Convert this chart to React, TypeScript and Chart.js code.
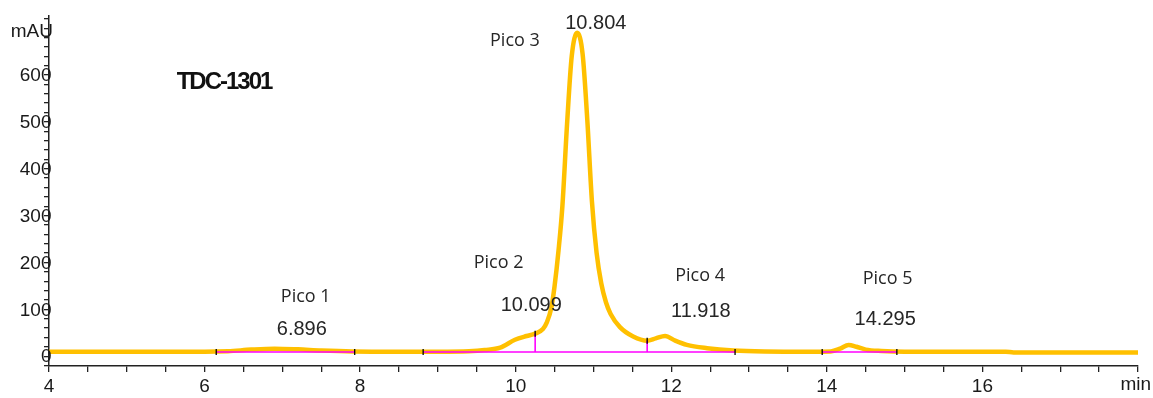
import React, { useEffect, useRef } from "react";
import { Chart, registerables } from "chart.js";

Chart.register(...registerables);

// ---- trace data (retention time in min, absorbance in mAU) ----
const timeMin = [
  4.0, 6.0, 6.3, 6.6, 6.9, 7.2, 7.5, 7.9, 8.5, 9.0, 9.4, 9.6, 9.8, 9.99, 10.14,
  10.25, 10.35, 10.4, 10.46, 10.5, 10.55, 10.6, 10.66, 10.72, 10.79, 10.86,
  10.92, 10.98, 11.04, 11.1, 11.16, 11.22, 11.34, 11.51, 11.69, 11.8, 11.92,
  12.05, 12.2, 12.46, 12.8, 13.2, 13.8, 14.05, 14.17, 14.28, 14.38, 14.5, 14.7,
  15.0, 16.3, 16.4, 18.0,
];
const signalMAU = [
  9.5, 9.5, 10.5, 14, 16, 14.5, 12, 10, 9.5, 9.5, 10.5, 13, 18, 35, 43,
  48, 58, 72, 105, 150, 225, 320, 495, 640, 690, 645,
  505, 330, 220, 155, 115, 90, 62, 42, 33, 38, 43,
  33, 24, 17, 12, 10, 9.5, 10, 16, 24, 20, 14, 11,
  9.5, 9.5, 8, 8,
];

// ---- integration baselines ----
const baseStart = [6.15, 8.81, 13.94];
const baseEnd = [7.93, 12.82, 14.9];
const baseLevel = 9;
const dropTimes = [10.25, 11.69];
const dropTop = [48, 33];

// ---- peak annotations ----
const peakNames = ["Pico 1", "Pico 2", "Pico 3", "Pico 4", "Pico 5"];
const peakTimes = ["6.896", "10.099", "10.804", "11.918", "14.295"];
const nameAtX = [7.3, 9.78, 9.99, 12.37, 14.78];
const nameAtY = [126, 199, 672, 171, 164];
const timeAtX = [7.25, 10.2, 11.03, 12.38, 14.75];
const timeAtY = [56, 109, 711, 96, 79];
const sampleTitle = "TDC-1301";
const titleAtX = 6.25;
const titleAtY = 585;

// ---- axes ----
const xTickValues = [
  4, 4.5, 5, 5.5, 6, 6.5, 7, 7.5, 8, 8.5, 9, 9.5, 10, 10.5, 11, 11.5, 12, 12.5,
  13, 13.5, 14, 14.5, 15, 15.5, 16, 16.5, 17, 17.5, 18,
];
const xLabelValues = [4, 6, 8, 10, 12, 14, 16];
const xLabelTexts = ["4", "6", "8", "10", "12", "14", "16"];
const xUnit = "min";
const yTickValues = [
  -20, 0, 20, 40, 60, 80, 100, 120, 140, 160, 180, 200, 220, 240, 260, 280,
  300, 320, 340, 360, 380, 400, 420, 440, 460, 480, 500, 520, 540, 560, 580,
  600, 620, 640, 660, 680, 700, 720,
];
const yLabelValues = [0, 100, 200, 300, 400, 500, 600];
const yLabelTexts = ["0", "100", "200", "300", "400", "500", "600"];
const yUnit = "mAU";
const yUnitAt = 695;

const AXIS_FONT = "'Liberation Sans', Arial, sans-serif";

const peakLabelPlugin = {
  id: "peakLabels",
  afterDatasetsDraw(chart: any) {
    const { ctx, scales } = chart;
    const x = scales.x;
    const y = scales.y;
    ctx.save();

    // y axis labels (overlapping the axis line like the original)
    ctx.fillStyle = "#1a1a1a";
    ctx.font = `19px ${AXIS_FONT}`;
    ctx.textAlign = "right";
    ctx.textBaseline = "middle";
    for (let i = 0; i < yLabelValues.length; i++) {
      ctx.fillText(yLabelTexts[i], y.right + 2.5, y.getPixelForValue(yLabelValues[i]) + 1);
    }
    ctx.fillText(yUnit, y.right + 4, y.getPixelForValue(yUnitAt) + 1);

    // x unit at the end of the axis
    ctx.textBaseline = "top";
    ctx.fillText(xUnit, chart.width - 2, x.top + 9);

    // peak labels
    ctx.textAlign = "center";
    ctx.textBaseline = "middle";
    ctx.fillStyle = "#262626";
    for (let i = 0; i < peakNames.length; i++) {
      ctx.font = "18px 'Open Sans', sans-serif";
      ctx.fillText(peakNames[i], x.getPixelForValue(nameAtX[i]), y.getPixelForValue(nameAtY[i]));
      ctx.font = `20px ${AXIS_FONT}`;
      ctx.fillText(peakTimes[i], x.getPixelForValue(timeAtX[i]), y.getPixelForValue(timeAtY[i]));
    }

    // sample title
    ctx.fillStyle = "#111";
    ctx.font = `bold 24px ${AXIS_FONT}`;
    (ctx as any).letterSpacing = "-2px";
    ctx.fillText(sampleTitle, x.getPixelForValue(titleAtX), y.getPixelForValue(titleAtY));
    ctx.restore();
  },
};

export default function App() {
  const canvasRef = useRef<HTMLCanvasElement | null>(null);

  useEffect(() => {
    const canvas = canvasRef.current;
    if (!canvas) return;

    const baselineSets = baseStart.map((s, i) => ({
      data: [
        { x: s, y: baseLevel },
        { x: baseEnd[i], y: baseLevel },
      ],
      borderColor: "#FF00FF",
      borderWidth: 1.6,
      pointStyle: "line",
      rotation: 90,
      pointRadius: 3,
      pointBorderColor: "#000",
      pointBorderWidth: 1.3,
      order: 1,
    }));
    const dropSets = dropTimes.map((t, i) => ({
      data: [
        { x: t, y: baseLevel },
        { x: t, y: dropTop[i] },
      ],
      borderColor: "#FF00FF",
      borderWidth: 1.6,
      pointStyle: "line",
      rotation: 90,
      pointRadius: [0, 3],
      pointBorderColor: "#000",
      pointBorderWidth: 1.3,
      order: 1,
    }));

    const chart = new Chart(canvas, {
      type: "line",
      data: {
        datasets: [
          {
            data: timeMin.map((t, i) => ({ x: t, y: signalMAU[i] })),
            borderColor: "#FFC000",
            borderWidth: 4.5,
            pointRadius: 0,
            cubicInterpolationMode: "monotone",
            order: 10,
          } as any,
          ...(baselineSets as any[]),
          ...(dropSets as any[]),
        ],
      },
      options: {
        animation: false,
        responsive: false,
        maintainAspectRatio: false,
        layout: { padding: { left: 0, right: 15, top: 16, bottom: 0 } },
        plugins: {
          legend: { display: false },
          tooltip: { enabled: false },
        },
        scales: {
          x: {
            type: "linear",
            min: 4,
            max: 18,
            afterBuildTicks: (s: any) => {
              s.ticks = xTickValues.map((v) => ({ value: v }));
            },
            afterFit: (s: any) => {
              s.height = 32;
            },
            ticks: {
              autoSkip: false,
              maxRotation: 0,
              padding: 3,
              color: "#1a1a1a",
              font: { family: AXIS_FONT, size: 19 },
              callback: (v: any) => {
                const i = xLabelValues.indexOf(Number(v));
                return i >= 0 ? xLabelTexts[i] : "";
              },
            },
            grid: {
              drawOnChartArea: false,
              drawTicks: true,
              tickLength: 6,
              color: "#222",
              lineWidth: 1.3,
            },
            border: { display: true, color: "#222", width: 1.5 },
          },
          y: {
            type: "linear",
            min: -21,
            max: 726,
            afterBuildTicks: (s: any) => {
              s.ticks = yTickValues.map((v) => ({ value: v }));
            },
            afterFit: (s: any) => {
              s.width = 49;
            },
            ticks: { display: false },
            grid: {
              drawOnChartArea: false,
              drawTicks: true,
              tickLength: 5,
              color: "#222",
              lineWidth: 1.3,
            },
            border: { display: true, color: "#222", width: 1.5 },
          },
        },
      } as any,
      plugins: [peakLabelPlugin],
    });

    return () => chart.destroy();
  }, []);

  return (
    <div style={{ position: "fixed", left: 0, top: 0, width: 1153, height: 398, background: "#fff" }}>
      <canvas ref={canvasRef} width={1153} height={398} style={{ display: "block" }} />
    </div>
  );
}
